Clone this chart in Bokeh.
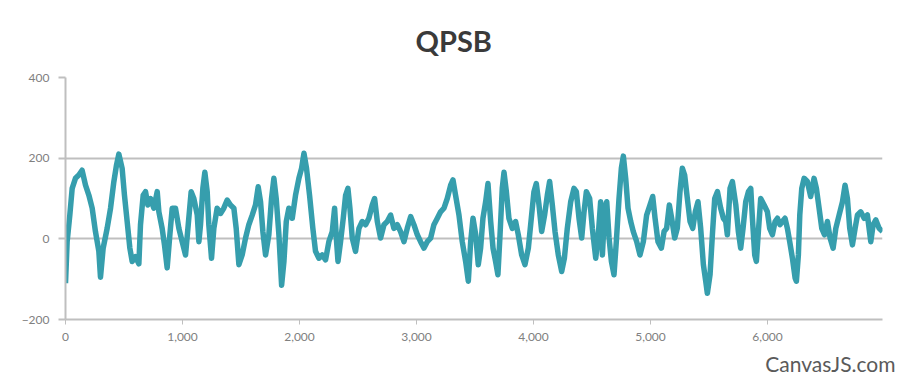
from bokeh.plotting import figure
from bokeh.models import Range1d, FixedTicker, NumeralTickFormatter, Title, ColumnDataSource
from bokeh.embed import file_html
from bokeh.resources import INLINE

# Values (x index, QPSB value)
x_vals = [0, 14, 37, 57, 85, 114, 142, 171, 200, 228, 256, 285, 299, 322, 356, 385, 413, 436, 456, 484,
          504, 527, 550, 570, 599, 627, 641, 664, 684, 704, 727, 755, 784, 798, 826, 846, 869, 892, 912, 940,
          969, 997, 1026, 1049, 1074, 1097, 1126, 1140, 1154, 1174, 1191, 1211, 1225, 1248, 1268, 1296, 1325, 1353, 1382, 1410,
          1439, 1459, 1482, 1510, 1539, 1567, 1596, 1624, 1647, 1667, 1687, 1710, 1738, 1761, 1781, 1801, 1824, 1847, 1867, 1887,
          1909, 1938, 1966, 1995, 2018, 2038, 2060, 2086, 2114, 2137, 2166, 2194, 2223, 2251, 2280, 2300, 2317, 2329, 2351, 2374,
          2394, 2414, 2431, 2451, 2479, 2508, 2536, 2565, 2593, 2622, 2642, 2665, 2693, 2722, 2750, 2779, 2807, 2836, 2864, 2893,
          2921, 2950, 2978, 3007, 3035, 3064, 3092, 3121, 3149, 3178, 3206, 3235, 3263, 3292, 3312, 3334, 3363, 3391, 3420, 3443,
          3463, 3483, 3506, 3528, 3548, 3568, 3591, 3611, 3634, 3654, 3676, 3696, 3714, 3733, 3748, 3768, 3790, 3819, 3847, 3870,
          3899, 3927, 3956, 3984, 4004, 4024, 4047, 4070, 4095, 4118, 4138, 4161, 4184, 4212, 4241, 4264, 4289, 4318, 4346, 4366,
          4389, 4412, 4432, 4452, 4480, 4503, 4532, 4554, 4574, 4589, 4609, 4626, 4646, 4666, 4688, 4708, 4731, 4751, 4768, 4788,
          4808, 4831, 4853, 4882, 4910, 4939, 4967, 4996, 5019, 5039, 5064, 5093, 5116, 5138, 5161, 5181, 5207, 5229, 5252, 5272,
          5292, 5315, 5338, 5361, 5383, 5406, 5429, 5452, 5472, 5486, 5509, 5529, 5549, 5572, 5600, 5623, 5643, 5657, 5680, 5700,
          5729, 5751, 5771, 5791, 5814, 5837, 5857, 5871, 5891, 5905, 5922, 5942, 5971, 5999, 6019, 6042, 6065, 6085, 6107, 6127,
          6150, 6170, 6190, 6213, 6236, 6247, 6264, 6276, 6293, 6313, 6341, 6369, 6398, 6418, 6441, 6464, 6487, 6512, 6535, 6561,
          6584, 6612, 6641, 6663, 6683, 6703, 6726, 6749, 6769, 6797, 6826, 6854, 6883, 6903, 6926, 6954, 6983]
y_vals = [-110, -7, 59, 125, 150, 158, 170, 133, 108, 76, 18, -31, -95, -23, 26, 76, 141, 183, 210, 175,
          108, 43, -23, -56, -44, -62, 35, 108, 117, 84, 100, 76, 117, 67, 26, -15, -72, 10, 76, 76,
          26, -7, -40, 35, 117, 100, 59, -7, 35, 125, 165, 117, 35, -48, 26, 76, 63, 76, 96, 84,
          76, 26, -64, -40, 2, 35, 59, 84, 129, 92, 18, -40, 10, 100, 150, 100, 10, -115, -56, 43,
          76, 51, 108, 150, 175, 212, 175, 108, 26, -31, -48, -40, -52, -7, 18, 76, -7, -56, -7, 51,
          108, 125, 76, 2, -31, 26, 43, 35, 51, 84, 100, 43, 2, 35, 43, 59, 26, 35, 18, -7,
          26, 55, 35, 10, -7, -23, -7, 2, 35, 51, 67, 76, 100, 133, 146, 108, 59, -7, -56, -105,
          -7, 51, 10, -64, -23, 51, 92, 137, 43, -23, -56, -89, 10, 125, 165, 117, 51, 26, 43, 10,
          -40, -64, -23, 59, 117, 137, 84, 18, 59, 108, 142, 84, 18, -40, -81, -48, 26, 92, 125, 117,
          51, 2, 67, 117, 100, 26, -48, 10, 92, -40, 76, 92, 2, -56, -89, -7, 100, 175, 205, 150,
          76, 43, 18, -7, -40, -7, 59, 84, 105, 51, -7, -23, 18, 26, 84, 51, 2, 26, 117, 175,
          158, 100, 43, 26, 67, 92, 26, -64, -105, -135, -89, 10, 100, 117, 76, 51, 43, 10, 125, 142,
          85, 18, -23, 26, 92, 117, 125, 51, -40, -56, 18, 100, 84, 67, 26, 10, 43, 51, 35, 43,
          51, 26, -7, -48, -97, -105, -40, 59, 125, 150, 142, 105, 150, 125, 76, 26, 10, 43, 2, -23,
          26, 59, 92, 133, 100, 26, -15, 26, 59, 67, 51, 59, -7, 35, 47, 26, 18]

y_ticks = [-200, 0, 200, 400]
x_ticks = [0, 1000, 2000, 3000, 4000, 5000, 6000]
x_max = 6983
y_min, y_max = -200, 400

source = ColumnDataSource(data=dict(x=x_vals, y=y_vals))

p = figure(width=899, height=381, output_backend="svg", toolbar_location=None,
           x_range=Range1d(0, x_max), y_range=Range1d(y_min, y_max),
           min_border_left=65, min_border_right=17, min_border_top=76, min_border_bottom=62)

p.title = Title(text="QPSB", align="left", offset=350, standoff=40, text_font="Lato",
                text_font_size="29px", text_font_style="bold", text_color="#3A3A3A")

p.line("x", "y", source=source, line_color="#369EAD", line_width=5.5, line_join="round")

p.outline_line_color = None
p.background_fill_color = "white"
p.border_fill_color = "white"

grid_color = "#BFBFBF"
p.xgrid.visible = False
p.ygrid.ticker = FixedTicker(ticks=y_ticks)
p.ygrid.grid_line_color = grid_color
p.ygrid.grid_line_width = 2

p.yaxis.ticker = FixedTicker(ticks=y_ticks)
p.yaxis.axis_line_color = grid_color
p.yaxis.axis_line_width = 2
p.yaxis.major_tick_line_color = grid_color
p.yaxis.major_tick_line_width = 2
p.yaxis.major_tick_out = 7
p.yaxis.major_tick_in = 0
p.yaxis.minor_tick_line_color = None
p.yaxis.major_label_standoff = 9
p.yaxis.major_label_text_font = "Lato"
p.yaxis.major_label_text_font_size = "12px"
p.yaxis.major_label_text_color = "#808080"

p.xaxis.ticker = FixedTicker(ticks=x_ticks)
p.xaxis.formatter = NumeralTickFormatter(format="0,0")
p.xaxis.axis_line_color = grid_color
p.xaxis.axis_line_width = 2
p.xaxis.major_tick_line_color = grid_color
p.xaxis.major_tick_line_width = 1
p.xaxis.major_tick_out = 5
p.xaxis.major_tick_in = 0
p.xaxis.minor_tick_line_color = None
p.xaxis.major_label_standoff = 8
p.xaxis.major_label_text_font = "Lato"
p.xaxis.major_label_text_font_size = "12px"
p.xaxis.major_label_text_color = "#808080"

credit = Title(text="CanvasJS.com", align="right", offset=-13, standoff=11, text_font="Lato",
               text_font_size="21px", text_font_style="normal", text_color="#5A5A5A")
p.add_layout(credit, "below")

open("out.html", "w").write(file_html(p, INLINE))
